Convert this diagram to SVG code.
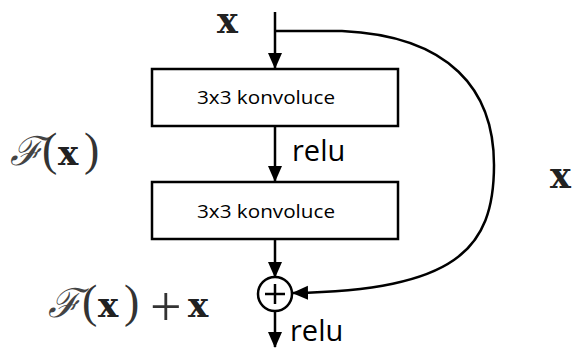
<svg xmlns="http://www.w3.org/2000/svg" width="573" height="350" viewBox="0 0 573 350">
<defs>
<marker id="ah" markerWidth="16" markerHeight="16" viewBox="0 0 16 16" refX="15" refY="8" orient="auto" markerUnits="userSpaceOnUse">
<path d="M0,1 L16,8 L0,15 Z" fill="#000"/>
</marker>
<style>
.box{fill:#fff;stroke:#000;stroke-width:2.5}
.ln{fill:none;stroke:#000;stroke-width:2.5}
.lbl{font-family:"Open Sans","Liberation Sans",sans-serif;font-size:19px;fill:#000}
.relu{font-family:"Open Sans","Liberation Sans",sans-serif;font-size:29px;fill:#000}
.math{font-family:"Liberation Serif","DejaVu Serif",serif;font-size:46px;fill:#333}
.bx{font-family:"DejaVu Serif","Liberation Serif",serif;font-weight:bold;font-size:35px;fill:#222}
.mx{font-family:"DejaVu Serif","Liberation Serif",serif;font-weight:bold;font-size:34px;fill:#222}
.F{font-family:"DejaVu Serif",serif;font-style:italic;font-size:40px;fill:#444}
</style>
</defs>
<rect width="573" height="350" fill="#fff"/>
<g id="connectors">
<line class="ln" x1="275" y1="12" x2="275" y2="68" marker-end="url(#ah)"/>
<line class="ln" x1="275" y1="126" x2="275" y2="181" marker-end="url(#ah)"/>
<line class="ln" x1="275" y1="239" x2="275" y2="277" marker-end="url(#ah)"/>
<line class="ln" x1="275" y1="311" x2="275" y2="347" marker-end="url(#ah)"/>
<path class="ln" d="M275,31 L342,31 C450,36 494,90 494,165 C494,250 455,290 293,293" marker-end="url(#ah)"/>
</g>
<g id="conv1">
<rect class="box" x="152" y="69" width="246" height="57"/>
<text class="lbl" x="266" y="104" text-anchor="middle" textLength="138" lengthAdjust="spacingAndGlyphs">3x3 konvoluce</text>
</g>
<g id="relu1"><text class="relu" x="292" y="161">relu</text></g>
<g id="conv2">
<rect class="box" x="152" y="182" width="246" height="57"/>
<text class="lbl" x="266" y="218" text-anchor="middle" textLength="138" lengthAdjust="spacingAndGlyphs">3x3 konvoluce</text>
</g>
<g id="sum">
<circle cx="275" cy="294" r="17" fill="#fff" stroke="#000" stroke-width="2.5"/>
<line class="ln" x1="265" y1="294" x2="285" y2="294"/>
<line class="ln" x1="275" y1="284" x2="275" y2="304"/>
</g>
<g id="relu2"><text class="relu" x="290" y="341">relu</text></g>
<g id="labels">
<text class="bx" x="217" y="33">x</text>
<text class="bx" x="550" y="188">x</text>
<text class="math" x="10" y="165"><tspan class="F">ℱ</tspan><tspan x="42">(</tspan><tspan class="mx" x="58">x</tspan><tspan x="84">)</tspan></text>
<text class="math" x="48" y="317"><tspan class="F">ℱ</tspan><tspan x="82">(</tspan><tspan class="mx" x="98">x</tspan><tspan x="124">)</tspan><tspan x="150" font-size="56" y="326">+</tspan><tspan class="mx" x="188" y="317">x</tspan></text>
</g>
</svg>
